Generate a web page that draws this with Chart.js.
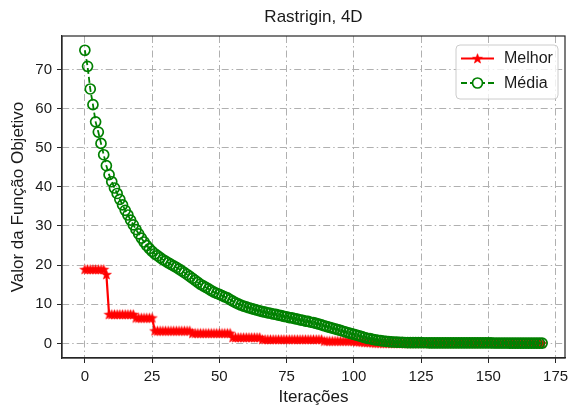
<!DOCTYPE html>
<html>
<head>
<meta charset="utf-8">
<script src="https://cdn.jsdelivr.net/npm/chart.js@4.4.1/dist/chart.umd.min.js"></script>
<style>
html,body{margin:0;padding:0;background:#fff;}
#wrap{width:574px;height:407px;position:relative;}
</style>
</head>
<body>
<div id="wrap"><canvas id="c" width="574" height="407"></canvas></div>
<script>
const iteracoes = [0,1,2,3,4,5,6,7,8,9,10,11,12,13,14,15,16,17,18,19,20,21,22,23,24,25,26,27,28,29,30,31,32,33,34,35,36,37,38,39,40,41,42,43,44,45,46,47,48,49,50,51,52,53,54,55,56,57,58,59,60,61,62,63,64,65,66,67,68,69,70,71,72,73,74,75,76,77,78,79,80,81,82,83,84,85,86,87,88,89,90,91,92,93,94,95,96,97,98,99,100,101,102,103,104,105,106,107,108,109,110,111,112,113,114,115,116,117,118,119,120,121,122,123,124,125,126,127,128,129,130,131,132,133,134,135,136,137,138,139,140,141,142,143,144,145,146,147,148,149,150,151,152,153,154,155,156,157,158,159,160,161,162,163,164,165,166,167,168,169,170];

const melhor = [18.9,18.9,18.9,18.9,18.9,18.9,18.9,18.9,17.6,7.4,
7.4,7.4,7.4,7.4,7.4,7.4,7.4,7.4,7.4,6.5,
6.5,6.5,6.5,6.5,6.5,6.5,3.2,3.2,3.2,3.2,
3.2,3.2,3.2,3.2,3.2,3.2,3.2,3.2,3.2,3.2,
2.6,2.6,2.6,2.6,2.6,2.6,2.6,2.6,2.6,2.6,
2.6,2.6,2.6,2.6,2.6,1.5,1.5,1.5,1.5,1.5,
1.5,1.5,1.5,1.5,1.5,1.5,1.0,1.0,1.0,1.0,
1.0,1.0,1.0,1.0,1.0,1.0,1.0,1.0,1.0,1.0,
1.0,1.0,1.0,1.0,1.0,1.0,1.0,1.0,1.0,0.6,
0.6,0.6,0.6,0.6,0.6,0.6,0.6,0.6,0.6,0.6,
0.5,0.45,0.4,0.35,0.3,0.25,0.2,0.15,0.1,0.08,
0.05,0.04,0.03,0.03,0.02,0.02,0.02,0.01,0.01,0.01,
0.01,0.01,0.01,0.01,0.01,0.0,0.0,0.0,0.0,0.0,
0.0,0.0,0.0,0.0,0.0,0.0,0.0,0.0,0.0,0.0,
0.0,0.0,0.0,0.0,0.0,0.0,0.0,0.0,0.0,0.0,
0.0,0.0,0.0,0.0,0.0,0.0,0.0,0.0,0.0,0.0,
0.0,0.0,0.0,0.0,0.0,0.0,0.0,0.0,0.0,0.0,0.0];

const media = [74.9,70.8,65.0,61.0,56.6,54.0,51.1,48.2,45.4,43.1,
41.3,39.7,38.3,36.8,35.4,34.0,32.8,31.5,30.3,29.1,
28.0,26.9,25.9,25.0,24.2,23.5,22.9,22.4,21.9,21.4,
21.0,20.6,20.2,19.8,19.4,19.0,18.5,18.1,17.6,17.1,
16.6,16.1,15.6,15.1,14.7,14.3,13.9,13.5,13.1,12.8,
12.5,12.2,11.9,11.6,11.2,10.8,10.4,10.1,9.8,9.5,
9.3,9.1,8.9,8.7,8.5,8.3,8.1,8.0,7.8,7.7,
7.5,7.4,7.2,7.1,6.9,6.8,6.6,6.5,6.3,6.2,
6.0,5.9,5.7,5.6,5.4,5.3,5.1,4.9,4.7,4.5,
4.3,4.1,3.9,3.7,3.5,3.3,3.1,2.9,2.7,2.5,
2.3,2.1,1.9,1.7,1.5,1.3,1.2,1.0,0.9,0.8,
0.7,0.6,0.5,0.45,0.4,0.35,0.3,0.28,0.25,0.22,
0.2,0.19,0.18,0.18,0.17,0.17,0.16,0.16,0.15,0.15,
0.15,0.14,0.14,0.14,0.13,0.13,0.13,0.12,0.12,0.12,
0.12,0.11,0.11,0.11,0.11,0.1,0.1,0.1,0.1,0.1,
0.1,0.1,0.09,0.09,0.09,0.09,0.09,0.09,0.08,0.08,
0.08,0.08,0.08,0.08,0.08,0.07,0.07,0.07,0.07,0.07,0.07];

const xTicks = [0,25,50,75,100,125,150,175];
const yTicks = [0,10,20,30,40,50,60,70];

const FONT = "'Liberation Sans', Arial, sans-serif";
const RED = '#ff0000';
const GREEN = '#008000';

function makeStar(r, color){
  const c = document.createElement('canvas');
  const s = Math.ceil(r*2+2);
  c.width = s; c.height = s;
  const g = c.getContext('2d');
  const cx = s/2, cy = s/2 + 0.4;
  g.beginPath();
  for (let i=0;i<10;i++){
    const rad = (i%2===0) ? r : r*0.42;
    const a = -Math.PI/2 + i*Math.PI/5;
    const px = cx + rad*Math.cos(a), py = cy + rad*Math.sin(a);
    if(i===0) g.moveTo(px,py); else g.lineTo(px,py);
  }
  g.closePath();
  g.fillStyle = color; g.fill();
  g.strokeStyle = color; g.lineWidth = 0.6; g.stroke();
  return c;
}
const starImg = makeStar(5.2, RED);

const frame = {
  id:'frame',
  afterDatasetsDraw(chart){
    const {ctx, chartArea:a} = chart;
    ctx.save();
    ctx.strokeStyle = '#262626';
    ctx.lineWidth = 1.2;
    ctx.strokeRect(a.left, a.top, a.right-a.left, a.bottom-a.top);
    ctx.restore();
  }
};

const legendBox = {
  id:'legendBox',
  afterDraw(chart){
    const ctx = chart.ctx;
    const a = chart.chartArea;
    const x0 = a.right - 109, y0 = a.top + 9, w = 102, h = 54, r = 4;
    ctx.save();
    ctx.beginPath();
    ctx.moveTo(x0+r,y0); ctx.lineTo(x0+w-r,y0); ctx.quadraticCurveTo(x0+w,y0,x0+w,y0+r);
    ctx.lineTo(x0+w,y0+h-r); ctx.quadraticCurveTo(x0+w,y0+h,x0+w-r,y0+h);
    ctx.lineTo(x0+r,y0+h); ctx.quadraticCurveTo(x0,y0+h,x0,y0+h-r);
    ctx.lineTo(x0,y0+r); ctx.quadraticCurveTo(x0,y0,x0+r,y0); ctx.closePath();
    ctx.fillStyle = 'rgba(255,255,255,0.8)'; ctx.fill();
    ctx.strokeStyle = '#cccccc'; ctx.lineWidth = 1; ctx.stroke();
    const ds = chart.data.datasets;
    const rows = [y0+13.5, y0+38];
    const lx1 = x0+5, lx2 = x0+38, mx = (lx1+lx2)/2;
    ds.forEach((d,i)=>{
      const y = rows[i];
      ctx.beginPath();
      ctx.setLineDash(d.borderDash || []);
      ctx.strokeStyle = d.borderColor; ctx.lineWidth = d.borderWidth;
      ctx.moveTo(lx1,y); ctx.lineTo(lx2,y); ctx.stroke();
      ctx.setLineDash([]);
      if (d.pointStyle === 'circle'){
        ctx.beginPath(); ctx.arc(mx,y,d.pointRadius,0,Math.PI*2);
        ctx.fillStyle='#ffffff'; ctx.fill();
        ctx.lineWidth = d.pointBorderWidth; ctx.strokeStyle = d.pointBorderColor; ctx.stroke();
      } else {
        ctx.drawImage(d.pointStyle, mx - d.pointStyle.width/2, y - d.pointStyle.height/2);
      }
      ctx.fillStyle = '#1a1a1a';
      ctx.font = "16px " + FONT;
      ctx.textBaseline = 'middle';
      ctx.fillText(d.label, x0+48, y+0.5);
    });
    ctx.restore();
  }
};

const ctx = document.getElementById('c').getContext('2d');
new Chart(ctx, {
  type:'line',
  data:{
    datasets:[
      {
        label:'Melhor',
        data: iteracoes.map((x,i)=>({x:x, y:melhor[i]})),
        borderColor: RED, backgroundColor: RED, borderWidth: 2.2,
        pointStyle: starImg, pointRadius: 5.2,
        pointBorderColor: RED, pointBackgroundColor: RED,
        fill:false, order: 1
      },
      {
        label:'Média',
        data: iteracoes.map((x,i)=>({x:x, y:media[i]})),
        borderColor: GREEN, backgroundColor: 'rgba(0,0,0,0)', borderWidth: 1.8,
        borderDash:[6,3],
        pointStyle:'circle', pointRadius: 5, pointBorderWidth: 1.7,
        pointBorderColor: GREEN, pointBackgroundColor: 'rgba(0,0,0,0)',
        fill:false, order: 0
      }
    ]
  },
  options:{
    responsive:false, animation:false,
    devicePixelRatio:1,
    layout:{padding:{left:0,right:9,top:0,bottom:0}},
    plugins:{
      legend:{display:false},
      tooltip:{enabled:false},
      title:{display:true, text:'Rastrigin, 4D', fullSize:false,
        color:'#1a1a1a', font:{family:FONT, size:17, weight:'normal'},
        padding:{top:7, bottom:8.6}}
    },
    scales:{
      x:{
        type:'linear', min:-8.5, max:178.5,
        afterBuildTicks: s => { s.ticks = xTicks.map(v=>({value:v})); },
        afterFit: s => { s.height = 49; },
        ticks:{color:'#1a1a1a', font:{family:FONT, size:15}, padding:5, maxRotation:0, autoSkip:false},
        grid:{color:'#b0b0b0', lineWidth:1, tickColor:'#262626', tickLength:5, tickWidth:1, tickBorderDash:[]},
        border:{display:true, color:'#262626', width:1.2, dash:[7,3,1.5,3]},
        title:{display:true, text:'Iterações', color:'#1a1a1a', font:{family:FONT, size:17}, padding:{top:0,bottom:-1}}
      },
      y:{
        type:'linear', min:-3.74, max:78.54,
        afterBuildTicks: s => { s.ticks = yTicks.map(v=>({value:v})); },
        afterFit: s => { s.width = 62; },
        ticks:{color:'#1a1a1a', font:{family:FONT, size:15}, padding:5},
        grid:{color:'#b0b0b0', lineWidth:1, tickColor:'#262626', tickLength:5, tickWidth:1, tickBorderDash:[]},
        border:{display:true, color:'#262626', width:1.2, dash:[7,3,1.5,3]},
        title:{display:true, text:'Valor da Função Objetivo', color:'#1a1a1a', font:{family:FONT, size:17}, padding:{top:8,bottom:0}}
      }
    }
  },
  plugins:[frame, legendBox]
});
</script>
</body>
</html>
